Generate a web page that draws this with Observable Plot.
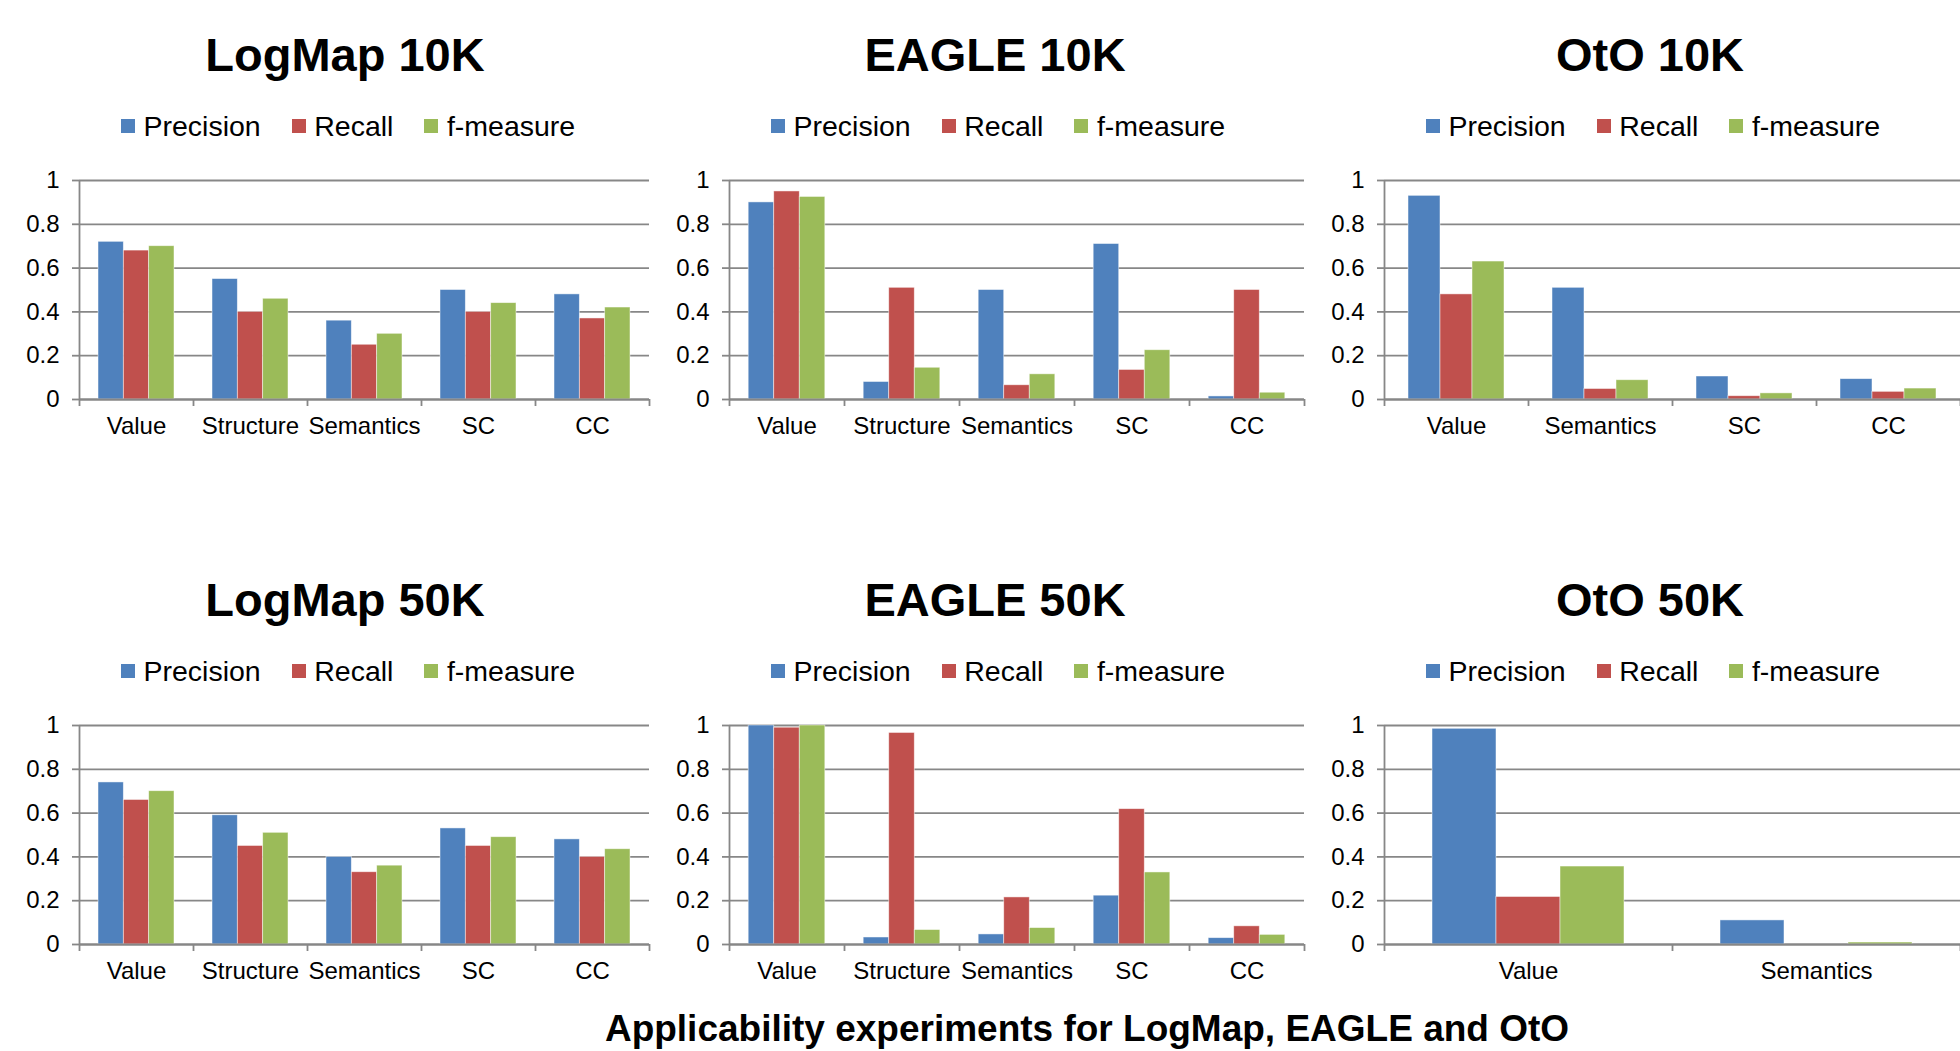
<!DOCTYPE html>
<html>
<head>
<meta charset="utf-8">
<script src="https://cdn.jsdelivr.net/npm/d3@7"></script>
<script src="https://cdn.jsdelivr.net/npm/@observablehq/plot@0.6"></script>
<style>
  html, body { margin: 0; padding: 0; background: #fff; }
  body { width: 1960px; height: 1051px; position: relative; overflow: hidden;
         font-family: "Liberation Sans", Arial, sans-serif; color: #000; }
  .title { position: absolute; text-align: center; font-weight: bold; font-size: 47px; line-height: 47px; white-space: nowrap; }
  .legend { position: absolute; display: flex; align-items: center; font-size: 28.5px; line-height: 28.5px; white-space: nowrap; }
  .legend .sw { width: 14px; height: 14px; margin-right: 8.5px; }
  .legend .item { display: flex; align-items: center; margin-right: 31px; }
  .chart { position: absolute; }
  .caption { position: absolute; text-align: center; font-weight: bold; font-size: 37px; line-height: 37px; white-space: nowrap; }
</style>
</head>
<body>
<script>
// ---- data ----
const categories5 = ["Value", "Structure", "Semantics", "SC", "CC"];
const categoriesOtO10K = ["Value", "Semantics", "SC", "CC"];
const categoriesOtO50K = ["Value", "Semantics"];
const seriesNames = ["Precision", "Recall", "f-measure"];
const seriesColors = ["#4F81BD", "#C0504D", "#9BBB59"];
const yTicks = [0, 0.2, 0.4, 0.6, 0.8, 1];
const panelTitles = ["LogMap 10K", "EAGLE 10K", "OtO 10K", "LogMap 50K", "EAGLE 50K", "OtO 50K"];
const captionText = "Applicability experiments for LogMap, EAGLE and OtO";

const logmap10kPrecision = [0.72, 0.55, 0.36, 0.50, 0.48];
const logmap10kRecall    = [0.68, 0.40, 0.25, 0.40, 0.37];
const logmap10kF         = [0.70, 0.46, 0.30, 0.44, 0.42];

const eagle10kPrecision = [0.90, 0.08, 0.50, 0.71, 0.014];
const eagle10kRecall    = [0.95, 0.51, 0.065, 0.135, 0.50];
const eagle10kF         = [0.925, 0.145, 0.115, 0.225, 0.031];

const oto10kPrecision = [0.93, 0.51, 0.105, 0.093];
const oto10kRecall    = [0.48, 0.048, 0.015, 0.035];
const oto10kF         = [0.63, 0.088, 0.028, 0.05];

const logmap50kPrecision = [0.74, 0.59, 0.40, 0.53, 0.48];
const logmap50kRecall    = [0.66, 0.45, 0.33, 0.45, 0.40];
const logmap50kF         = [0.70, 0.51, 0.36, 0.49, 0.435];

const eagle50kPrecision = [1.0, 0.032, 0.046, 0.223, 0.029];
const eagle50kRecall    = [0.99, 0.966, 0.215, 0.618, 0.083];
const eagle50kF         = [1.0, 0.066, 0.075, 0.329, 0.044];

const oto50kPrecision = [0.985, 0.11];
const oto50kRecall    = [0.217, 0];
const oto50kF         = [0.356, 0.009];

// ---- panels ----
const panels = [
  {cats: categories5, series: [logmap10kPrecision, logmap10kRecall, logmap10kF]},
  {cats: categories5, series: [eagle10kPrecision, eagle10kRecall, eagle10kF]},
  {cats: categoriesOtO10K, series: [oto10kPrecision, oto10kRecall, oto10kF]},
  {cats: categories5, series: [logmap50kPrecision, logmap50kRecall, logmap50kF]},
  {cats: categories5, series: [eagle50kPrecision, eagle50kRecall, eagle50kF]},
  {cats: categoriesOtO50K, series: [oto50kPrecision, oto50kRecall, oto50kF]}
];

const colLeft = [0, 650, 1305];
const colWidth = [650, 655, 655];
const colMarginRight = [1, 1, 0];
const rowOffset = 545;
const gray = "#878787";

panels.forEach((p, idx) => {
  const r = Math.floor(idx / 3), c = idx % 3;
  const top = r * rowOffset;
  const left = colLeft[c];

  const t = document.createElement("div");
  t.className = "title";
  t.style.left = left + "px";
  t.style.width = "690px";
  t.style.top = (31 + top) + "px";
  t.textContent = panelTitles[idx];
  document.body.appendChild(t);

  const lg = document.createElement("div");
  lg.className = "legend";
  lg.style.left = (left + 121) + "px";
  lg.style.top = (112 + top) + "px";
  seriesNames.forEach((s, k) => {
    const it = document.createElement("div");
    it.className = "item";
    const sw = document.createElement("div");
    sw.className = "sw";
    sw.style.background = seriesColors[k];
    const tx = document.createElement("span");
    tx.textContent = s;
    it.appendChild(sw); it.appendChild(tx);
    lg.appendChild(it);
  });
  document.body.appendChild(lg);

  const n = p.cats.length;
  const bars = [];
  p.cats.forEach((cat, i) => {
    seriesNames.forEach((s, k) => {
      bars.push({cat, i, k, series: s, value: p.series[k][i]});
    });
  });
  const groupStart = 1 / 6, barW = 2 / 9;
  const boundaries = d3.range(0, n + 1);
  const centers = d3.range(0, n).map(i => i + 0.5);

  const chart = Plot.plot({
    width: colWidth[c],
    height: 284,
    marginTop: 20,
    marginBottom: 45,
    marginLeft: 79,
    marginRight: colMarginRight[c],
    style: {fontFamily: "Liberation Sans, Arial, sans-serif", fontSize: "24px", color: "#000", background: "transparent", overflow: "visible"},
    x: {domain: [0, n], axis: null},
    y: {domain: [0, 1], axis: null},
    color: {domain: seriesNames, range: seriesColors},
    marks: [
      Plot.gridY(yTicks, {stroke: gray, strokeOpacity: 1, strokeWidth: 1.8}),
      Plot.rect(bars, {
        x1: d => d.i + groupStart + d.k * barW,
        x2: d => d.i + groupStart + (d.k + 1) * barW,
        y1: 0, y2: "value",
        fill: "series",
        stroke: "#fff", strokeWidth: 0.8, strokeOpacity: 0.6
      }),
      Plot.ruleY([0], {stroke: gray, strokeWidth: 1.8}),
      Plot.ruleX([0], {y1: 0, y2: 1, stroke: gray, strokeWidth: 1.8}),
      Plot.axisY({ticks: yTicks, tickSize: 7, tickPadding: 13, stroke: gray, strokeWidth: 1.8, label: null,
                  tickFormat: d => String(+d.toFixed(1)), fill: "#000"}),
      Plot.axisX({ticks: boundaries, tickSize: 7, tickFormat: () => "", stroke: gray, strokeWidth: 1.8, label: null}),
      Plot.axisX({ticks: centers, tickSize: 0, tickPadding: 17, label: null, tickFormat: v => p.cats[Math.floor(v)], fill: "#000"})
    ]
  });
  chart.classList.add("chart");
  chart.style.left = left + "px";
  chart.style.top = (160 + top) + "px";
  chart.style.position = "absolute";
  document.body.appendChild(chart);
});

const cap = document.createElement("div");
cap.className = "caption";
cap.style.left = "107px";
cap.style.width = "1960px";
cap.style.top = "1010px";
cap.textContent = captionText;
document.body.appendChild(cap);
</script>
</body>
</html>
